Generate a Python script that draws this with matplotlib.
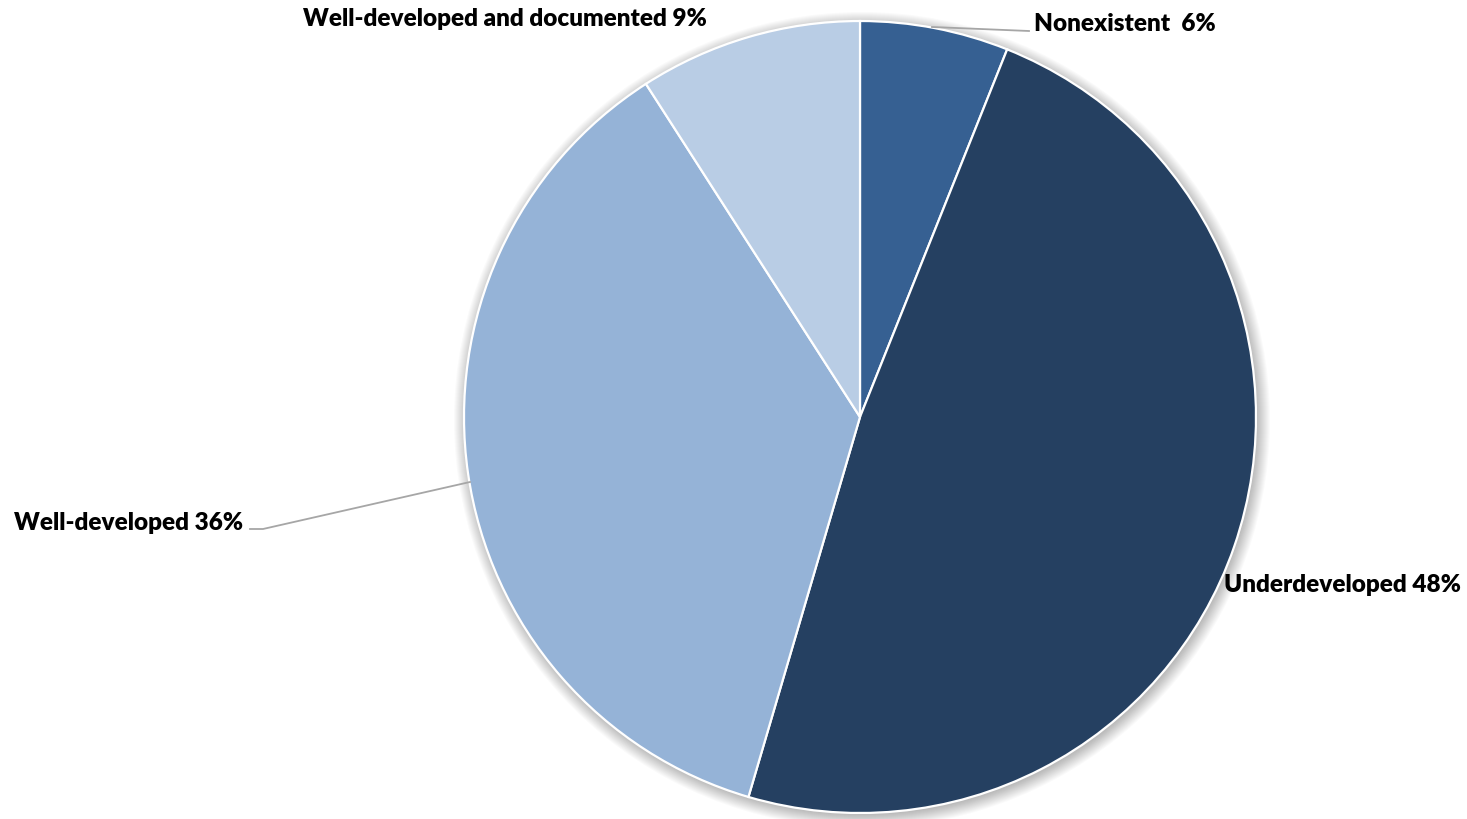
import matplotlib
matplotlib.use("Agg")
import matplotlib.pyplot as plt
from matplotlib.patches import Circle

plt.rcParams['font.family'] = ['Lato', 'DejaVu Sans']

categories = ["Nonexistent", "Underdeveloped", "Well-developed", "Well-developed and documented"]
shares = [6, 48, 36, 9]
label_texts = ["Nonexistent  6%", "Underdeveloped 48%", "Well-developed 36%",
               "Well-developed and documented 9%"]
colors = ["#366092", "#254061", "#95b3d7", "#b9cde5"]

W, H = 1467, 820
cx, cy, r = 860, H - 418, 396

fig = plt.figure(figsize=(W / 100, H / 100), dpi=100)
ax = fig.add_axes([0, 0, 1, 1])

# soft drop shadow behind the pie
for i in range(14):
    ax.add_patch(Circle((cx + 2, cy - 3), r + 12 - i, facecolor="#000000",
                        edgecolor="none", alpha=0.018, zorder=0))

wedges, _ = ax.pie(shares, colors=colors, startangle=90, counterclock=False,
                   center=(cx, cy), radius=r,
                   wedgeprops=dict(edgecolor="white", linewidth=1.6))
for w in wedges:
    w.set_zorder(2)

ax.set_xlim(0, W)
ax.set_ylim(0, H)
ax.set_aspect("equal")
ax.axis("off")

lbl = dict(fontsize=17.5, fontweight="heavy", color="black", va="center", zorder=5)
ax.text(1034, H - 24, label_texts[0], ha="left", **lbl)
ax.text(1224, H - 585, label_texts[1], ha="left", **lbl)
ax.text(243, H - 523, label_texts[2], ha="right", **lbl)
ax.text(303, H - 19, label_texts[3], ha="left", **lbl)

# leader lines
ax.plot([932, 1029], [H - 28, H - 32], color="#a6a6a6", lw=1.3, zorder=4)
ax.plot([470, 263, 250], [H - 483, H - 530, H - 530], color="#a6a6a6", lw=1.3, zorder=4)

fig.savefig("out.png", dpi=100)
